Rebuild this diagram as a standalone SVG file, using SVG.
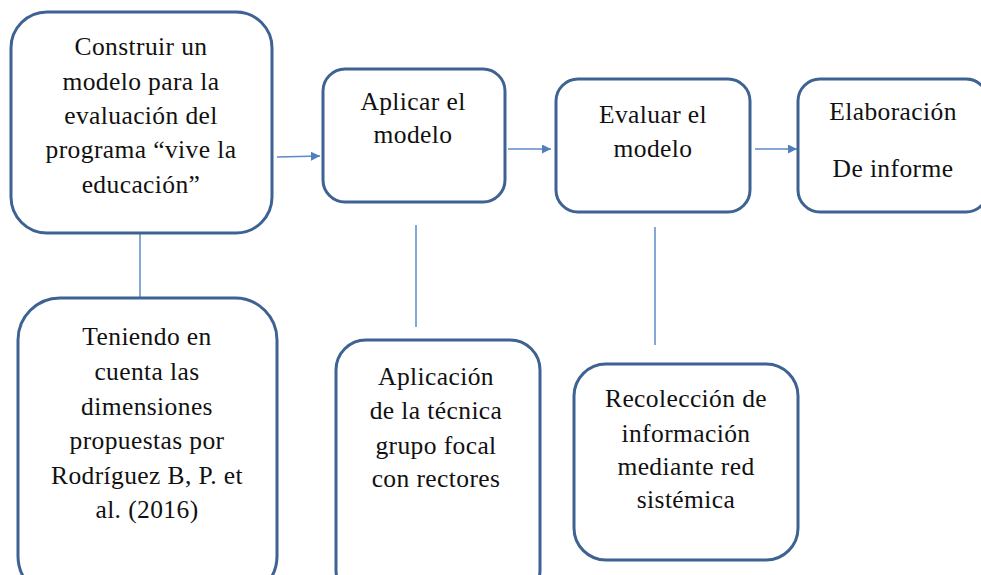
<svg xmlns="http://www.w3.org/2000/svg" width="981" height="575" viewBox="0 0 981 575">
<defs>
<marker id="ah" viewBox="0 0 10 10" refX="10" refY="5" markerWidth="9" markerHeight="9" markerUnits="userSpaceOnUse" orient="auto">
<path d="M0,0 L10,5 L0,10 z" fill="#4f7fbd"/>
</marker>
</defs>
<rect width="981" height="575" fill="#fff"/>
<g id="connectors" stroke="#5b8bc4" stroke-width="1.5" fill="none">
<line x1="140" y1="233" x2="140" y2="298"/>
<line x1="416" y1="225" x2="416" y2="327"/>
<line x1="655" y1="227" x2="655" y2="345"/>
<line x1="277" y1="157" x2="320" y2="156" marker-end="url(#ah)"/>
<line x1="508" y1="149" x2="551" y2="149" marker-end="url(#ah)"/>
<line x1="755" y1="149" x2="797" y2="149" marker-end="url(#ah)"/>
</g>
<g id="nodes" font-family="Liberation Serif" font-size="25.5" letter-spacing="0.4" fill="#111" text-anchor="middle">
<g id="n1">
<rect x="11" y="12" width="261" height="221" rx="36" fill="#fff" stroke="#3e6393" stroke-width="3"/>
<text x="141" y="55">Construir un</text>
<text x="141" y="90">modelo para la</text>
<text x="141" y="124">evaluación del</text>
<text x="141" y="158">programa “vive la</text>
<text x="141" y="193">educación”</text>
</g>
<g id="n2">
<rect x="323" y="69" width="182" height="133" rx="22" fill="#fff" stroke="#3e6393" stroke-width="3"/>
<text x="413" y="110">Aplicar el</text>
<text x="413" y="143">modelo</text>
</g>
<g id="n3">
<rect x="556" y="79" width="194" height="133" rx="22" fill="#fff" stroke="#3e6393" stroke-width="3"/>
<text x="653" y="123">Evaluar el</text>
<text x="653" y="157">modelo</text>
</g>
<g id="n4">
<rect x="798" y="79" width="190" height="133" rx="22" fill="#fff" stroke="#3e6393" stroke-width="3"/>
<text x="893" y="120">Elaboración</text>
<text x="893" y="177">De informe</text>
</g>
<g id="n5">
<rect x="18" y="298" width="259" height="300" rx="42" fill="#fff" stroke="#3e6393" stroke-width="3"/>
<text x="147" y="345">Teniendo en</text>
<text x="147" y="380">cuenta las</text>
<text x="147" y="415">dimensiones</text>
<text x="147" y="449">propuestas por</text>
<text x="147" y="484">Rodríguez B, P. et</text>
<text x="147" y="518">al. (2016)</text>
</g>
<g id="n6">
<rect x="336" y="340" width="204" height="260" rx="30" fill="#fff" stroke="#3e6393" stroke-width="3"/>
<text x="436" y="385">Aplicación</text>
<text x="436" y="419">de la técnica</text>
<text x="436" y="454">grupo focal</text>
<text x="436" y="487">con rectores</text>
</g>
<g id="n7">
<rect x="574" y="364" width="224" height="196" rx="32" fill="#fff" stroke="#3e6393" stroke-width="3"/>
<text x="686" y="407">Recolección de</text>
<text x="686" y="442">información</text>
<text x="686" y="475">mediante red</text>
<text x="686" y="508">sistémica</text>
</g>
</g>
</svg>
